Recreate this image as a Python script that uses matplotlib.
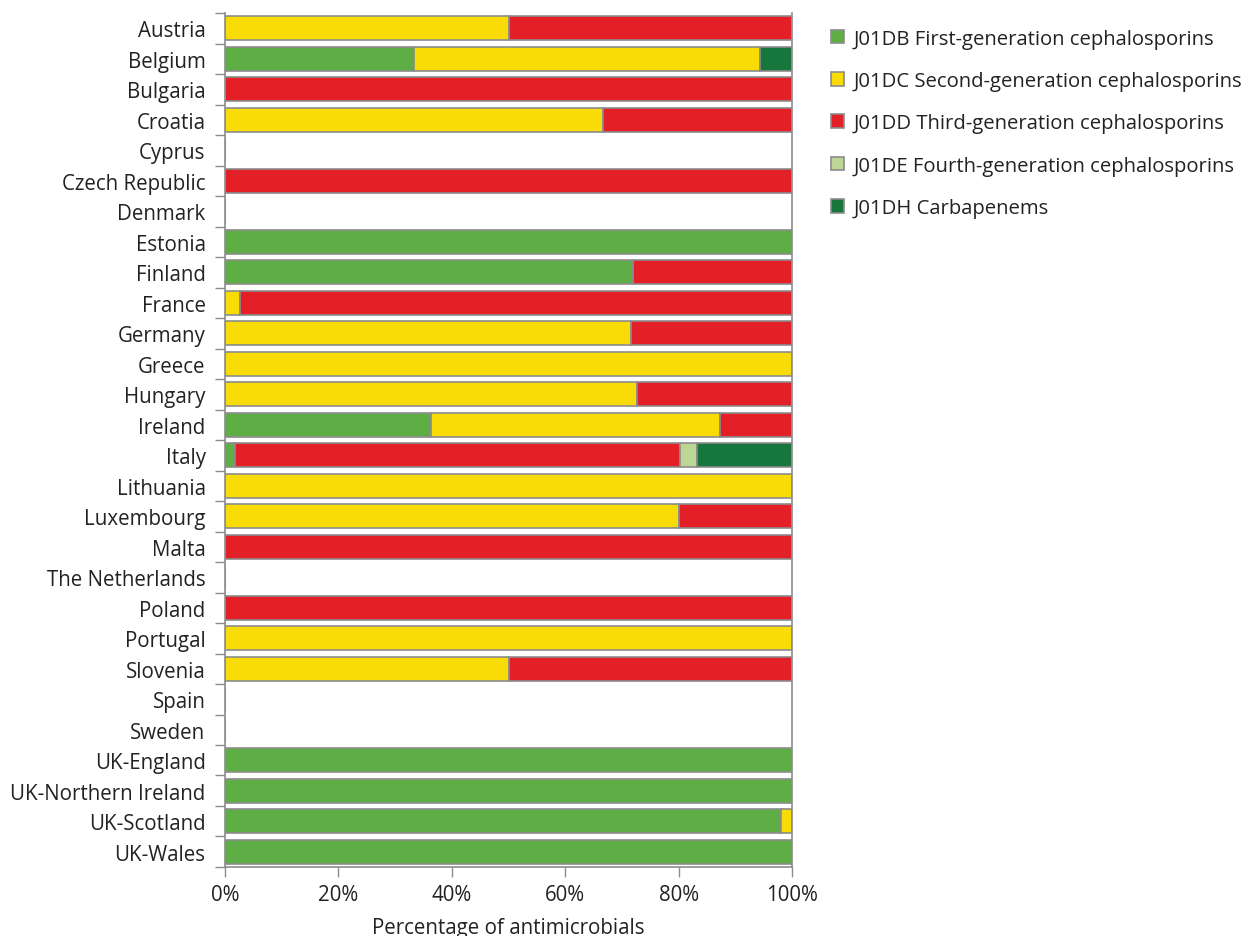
import numpy as np
import matplotlib.pyplot as plt
from matplotlib.ticker import PercentFormatter

plt.rcParams['font.family'] = ['Open Sans', 'DejaVu Sans']

countries = ['Austria', 'Belgium', 'Bulgaria', 'Croatia', 'Cyprus', 'Czech Republic',
             'Denmark', 'Estonia', 'Finland', 'France', 'Germany', 'Greece', 'Hungary',
             'Ireland', 'Italy', 'Lithuania', 'Luxembourg', 'Malta', 'The Netherlands',
             'Poland', 'Portugal', 'Slovenia', 'Spain', 'Sweden', 'UK-England',
             'UK-Northern Ireland', 'UK-Scotland', 'UK-Wales']

# share of each ATC group per country (%)
first_gen = [0, 33.3, 0, 0, 0, 0, 0, 100, 72.0, 0, 0, 0, 0, 36.4, 1.7, 0, 0, 0, 0,
             0, 0, 0, 0, 0, 100, 100, 98.1, 100]
second_gen = [50.0, 61.1, 0, 66.7, 0, 0, 0, 0, 0, 2.6, 71.6, 100, 72.7, 50.9, 0, 100,
              80.0, 0, 0, 0, 100, 50.0, 0, 0, 0, 0, 1.9, 0]
third_gen = [50.0, 0, 100, 33.3, 0, 100, 0, 0, 28.0, 97.4, 28.4, 0, 27.3, 12.7, 78.5,
             0, 20.0, 100, 0, 100, 0, 50.0, 0, 0, 0, 0, 0, 0]
fourth_gen = [0, 0, 0, 0, 0, 0, 0, 0, 0, 0, 0, 0, 0, 0, 3.1, 0, 0, 0, 0,
              0, 0, 0, 0, 0, 0, 0, 0, 0]
carbapenems = [0, 5.6, 0, 0, 0, 0, 0, 0, 0, 0, 0, 0, 0, 0, 16.7, 0, 0, 0, 0,
               0, 0, 0, 0, 0, 0, 0, 0, 0]

series = [
    ('J01DB First-generation cephalosporins', first_gen, '#5fad45'),
    ('J01DC Second-generation cephalosporins', second_gen, '#f9dc07'),
    ('J01DD Third-generation cephalosporins', third_gen, '#e32027'),
    ('J01DE Fourth-generation cephalosporins', fourth_gen, '#bcd695'),
    ('J01DH Carbapenems', carbapenems, '#17763b'),
]

fs = 14.8
fig = plt.figure(figsize=(12.49, 9.37), dpi=100)
ax = fig.add_axes([225 / 1249, 69 / 937, 567 / 1249, 854 / 937])

y = np.arange(len(countries))
left = np.zeros(len(countries))
for label, vals, color in series:
    vals = np.array(vals)
    ax.barh(y, vals, left=left, height=0.8, color=color, edgecolor='#8c8c8c',
            linewidth=1.2, label=label)
    left += vals

ax.set_ylim(len(countries) - 0.5, -0.5)
ax.set_xlim(0, 100)
ax.xaxis.set_major_formatter(PercentFormatter(decimals=0))
ax.set_xticks(np.arange(0, 101, 20))
ax.set_yticks(y)
ax.set_yticklabels(countries)
ax.set_yticks(np.arange(-0.5, len(countries)), minor=True)
ax.tick_params(axis='y', which='major', length=0, pad=14, labelsize=fs, labelcolor='#222222')
ax.tick_params(axis='y', which='minor', length=7, color='#8c8c8c', width=1)
ax.tick_params(axis='x', length=7, color='#8c8c8c', width=1, labelsize=fs,
               labelcolor='#222222', pad=5)
ax.set_xlabel('Percentage of antimicrobials', fontsize=fs, color='#222222', labelpad=9)

for side in ['left', 'bottom', 'right']:
    ax.spines[side].set_color('#8c8c8c')
    ax.spines[side].set_linewidth(1.2)
ax.spines['top'].set_visible(False)

ax.legend(loc='upper left', bbox_to_anchor=(1.037, 1.003), frameon=False, fontsize=14.6,
          handlelength=0.65, handleheight=0.65, handletextpad=0.45, labelspacing=1.1,
          labelcolor='#222222')

fig.savefig('out.png', dpi=100)
